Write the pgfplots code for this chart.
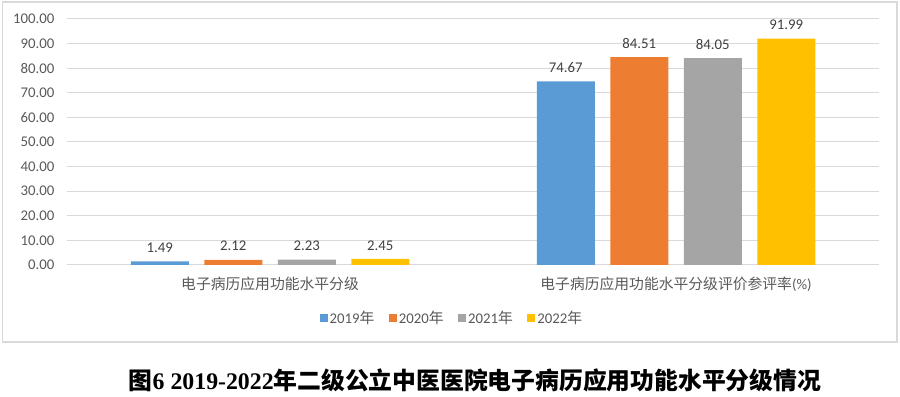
\documentclass[border=0pt]{standalone}
\usepackage{pgfplots}
\pgfplotsset{compat=1.18}
\usepackage{fontspec}
\setmainfont{Carlito}
\newfontfamily\cjk{Noto Sans CJK SC}
\newfontfamily\tnr{Liberation Serif}
\definecolor{c1}{HTML}{5B9BD5}
\definecolor{c2}{HTML}{ED7D31}
\definecolor{c3}{HTML}{A5A5A5}
\definecolor{c4}{HTML}{FFC000}
\definecolor{gridc}{HTML}{D9D9D9}
\definecolor{txt}{HTML}{595959}
\definecolor{dtxt}{HTML}{404040}
\newcommand\lbl{\fontsize{14.8bp}{17bp}\selectfont}
\begin{document}
\begin{tikzpicture}
\useasboundingbox (0,0) rectangle (900bp,397bp);
\draw[gridc, line width=1.2bp] (2.5bp,55bp) rectangle (897bp,395bp);
\begin{axis}[
  at={(67bp,132bp)}, anchor=south west,
  scale only axis, width=812bp, height=246bp,
  xmin=-0.5, xmax=1.5, ymin=0, ymax=100,
  ybar=15.5bp, bar width=58bp,
  xtick={0,1},
  xticklabels={{\cjk 电子病历应用功能水平分级}, {\cjk 电子病历应用功能水平分级评价参评率}(\%)},
  ytick={0,10,...,100},
  ymajorgrids, grid style={gridc, line width=1bp},
  axis line style={draw=none},
  major tick length=0pt,
  tick label style={font=\lbl, text=txt},
  /pgf/number format/assume math mode=true,
  yticklabel style={/pgf/number format/fixed, /pgf/number format/fixed zerofill, /pgf/number format/precision=2, xshift=-9bp},
  xticklabel style={yshift=-8bp},
  clip=false,
  nodes near coords={\pgfmathprintnumber[fixed,fixed zerofill,precision=2,assume math mode=true]{\pgfplotspointmeta}},
  nodes near coords style={font=\lbl, text=dtxt, anchor=south, inner sep=0pt, yshift=8.5bp},
  legend columns=4,
  legend style={at={(0.474,-0.215)}, anchor=center, draw=none, font=\lbl, text=txt,
    /tikz/every even column/.append style={column sep=12.5bp},
    nodes={inner sep=2bp}},
  legend image code/.code={\fill[#1] (0bp,-4bp) rectangle (8bp,4bp);},
]
\addplot[fill=c1, draw=none] coordinates {(0,1.49) (1,74.67)};
\addplot[fill=c2, draw=none] coordinates {(0,2.12) (1,84.51)};
\addplot[fill=c3, draw=none] coordinates {(0,2.23) (1,84.05)};
\addplot[fill=c4, draw=none] coordinates {(0,2.45) (1,91.99)};
\legend{2019{\cjk 年}, 2020{\cjk 年}, 2021{\cjk 年}, 2022{\cjk 年}}
\end{axis}
\node[anchor=center] at (475bp,17bp) {\fontsize{23.8bp}{26bp}\selectfont{\cjk\bfseries 图}{\tnr\bfseries 6 2019-2022}{\cjk\bfseries 年二级公立中医医院电子病历应用功能水平分级情况}};
\end{tikzpicture}
\end{document}
